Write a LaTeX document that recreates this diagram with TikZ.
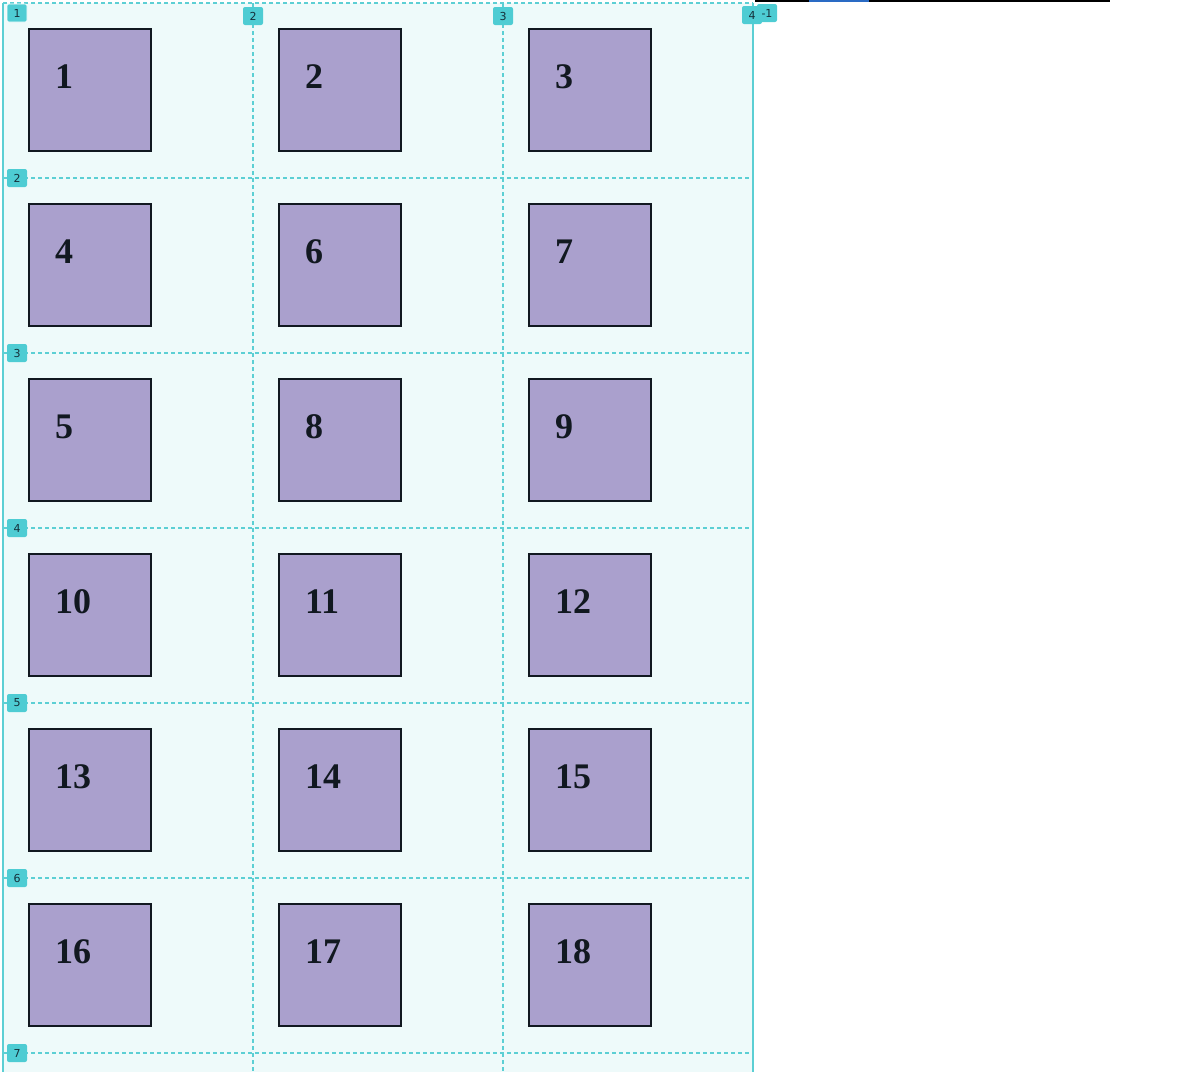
\documentclass[tikz,border=0pt]{standalone}
\usepackage{fontspec}
\setmainfont{Liberation Serif}
\newfontfamily\tagfont{DejaVu Sans}
\usetikzlibrary{positioning}
\definecolor{gridbg}{HTML}{EEFAFA}
\definecolor{gridcyan}{HTML}{5CCFD4}
\definecolor{tagfill}{HTML}{4ECCD3}
\definecolor{tagtext}{HTML}{15303A}
\definecolor{itemfill}{HTML}{AAA0CD}
\definecolor{itemedge}{HTML}{111820}
\definecolor{barblue}{HTML}{2A6BC4}

\begin{document}
\begin{tikzpicture}[x=1pt, y=-1pt,
    item/.style={draw=itemedge, line width=2pt, fill=itemfill, minimum size=122pt,
                 inner sep=0pt, anchor=north west},
    num/.style={font=\bfseries\fontsize{36}{36}\selectfont, text=itemedge,
                anchor=base west, inner sep=0pt},
    track/.style={gridcyan, line width=1.3pt, dash pattern=on 4pt off 3pt},
    edge/.style={gridcyan, line width=1.5pt},
    tag/.style={fill=tagfill, rounded corners=2pt, minimum width=20pt, minimum height=18pt,
                inner sep=1pt, font=\tagfont\fontsize{11}{11}\selectfont, text=tagtext},
]
\useasboundingbox (0,0) rectangle (1188,1072);

% --- Grid area ---
\fill[gridbg] (3,3) rectangle (753,1072);
\draw[track] (3,3) -- (753,3);
\foreach \y in {178,353,528,703,878,1053}
  \draw[track] (3,\y) -- (753,\y);
\foreach \x in {253,503}
  \draw[track] (\x,3) -- (\x,1072);
\draw[edge] (3,3) -- (3,1072);
\draw[edge] (753,3) -- (753,1072);

% --- Top bar ---
\draw[black, line width=2pt] (755,1) -- (1110,1);
\draw[barblue, line width=2pt] (809,1) -- (869,1);

% --- Items ---
\foreach \n [count=\i from 0] in {1,2,3,4,6,7,5,8,9,10,11,12,13,14,15,16,17,18} {
  \pgfmathtruncatemacro\c{mod(\i,3)}
  \pgfmathtruncatemacro\r{div(\i,3)}
  \node[item] (b\n) at (28+250*\c, 28+175*\r) {};
  \node[num] (t\n) at (55+250*\c, 88+175*\r) {\n};
}

% --- Line tags ---
\node[tag, draw=white, line width=0.6pt] (row1) at (17,13) {1};
\foreach \k/\x in {2/253,3/503}
  \node[tag] (col\k) at (\x,16) {\k};
\node[tag] (col4) at (752,15) {4};
\node[tag] (neg1) at (767,13) {-1};
\foreach \k [evaluate=\k as \y using 3+175*(\k-1)] in {2,...,7}
  \node[tag] (row\k) at (17,\y) {\k};

\end{tikzpicture}
\end{document}
